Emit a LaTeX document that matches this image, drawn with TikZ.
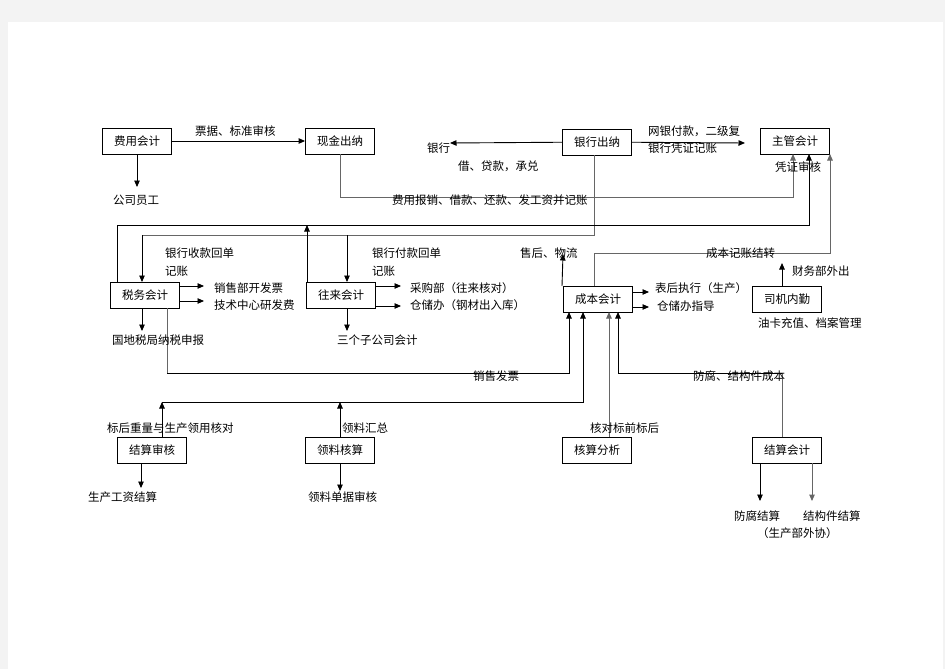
\documentclass[tikz,border=0pt]{standalone}
\usepackage{fontspec}
\setmainfont{Noto Sans CJK SC}
\usetikzlibrary{arrows.meta}
\definecolor{bggray}{HTML}{F3F3F3}
\tikzset{
  box/.style={draw=black, line width=0.9pt, fill=white, minimum width=69pt, minimum height=26pt, inner sep=0pt, font=\fontsize{11.5}{12}\selectfont},
  lbl/.style={inner sep=0pt, font=\fontsize{11.5}{12}\selectfont, anchor=west},
  ln/.style={line width=0.9pt, draw=black},
  gln/.style={line width=1pt, draw=black!60},
  arr/.style={-{Triangle[length=6.5pt,width=5.5pt]}},
}
\begin{document}
\begin{tikzpicture}[x=1pt,y=-1pt]
\useasboundingbox (0,0) rectangle (945,669);
\fill[bggray] (0,0) rectangle (945,669);
\fill[white] (8,22) rectangle (943,669);

% boxes
\node[box] (fy) at (137,141) {费用会计};
\node[box] (xj) at (340,141) {现金出纳};
\node[box] (yh) at (597,142) {银行出纳};
\node[box] (zg) at (795,141) {主管会计};
\node[box] (sw) at (145,295) {税务会计};
\node[box] (wl) at (341,295) {往来会计};
\node[box] (cb) at (598,299) {成本会计};
\node[box] (sj) at (787,299) {司机内勤};
\node[box] (js) at (152,450) {结算审核};
\node[box] (ll) at (340,450) {领料核算};
\node[box] (hs) at (597,450) {核算分析};
\node[box] (jk) at (787,450) {结算会计};

% free-end coordinates
\coordinate (gsyg) at (137,187);
\coordinate (bank) at (450,143);
\coordinate (zgin) at (745,143);
\coordinate (gds) at (142,331);
\coordinate (szgs) at (347,331);
\coordinate (swr1) at (204,286);
\coordinate (swr2) at (204,301);
\coordinate (wlr1) at (401,286);
\coordinate (wlr2) at (401,306);
\coordinate (cbr1) at (649,292);
\coordinate (cbr2) at (649,307);
\coordinate (shwl) at (563,254);
\coordinate (cwwc) at (782,263);
\coordinate (scgz) at (141,488);
\coordinate (lldj) at (340,491);
\coordinate (ffjs) at (760,501);
\coordinate (jgjs) at (812,501);

% 费用会计
\draw[ln,arr] (fy) -- (xj);
\draw[ln,arr] (fy.south) -- (gsyg);
% 现金出纳 -> 主管会计
\draw[gln,arr] (xj.south) |- (793,197) -- (793,154);
% 银行出纳
\draw[ln,arr] (yh) -- (bank);
\draw[ln,arr] (yh) -- (zgin);
\draw[gln] (594,155) -- (594,235) -- (142,235);
\draw[ln,arr] (142,235) -- (142,282);
\draw[ln,arr] (347,235) -- (347,282);
% 税务会计 loop to 主管会计
\draw[ln,arr] (117,282) -- (117,225) -- (809,225) -- (809,154);
\draw[ln,arr] (307,282) -- (307,225);
% 税务会计 outputs
\draw[ln,arr] (180,286) -- (swr1);
\draw[ln,arr] (180,301) -- (swr2);
\draw[ln,arr] (sw.south -| gds) -- (gds);
% 往来会计 outputs
\draw[ln,arr] (376,286) -- (wlr1);
\draw[ln,arr] (376,306) -- (wlr2);
\draw[ln,arr] (wl.south -| szgs) -- (szgs);
% 销售发票
\draw[gln] (167,308) -- (167,373);
\draw[ln,arr] (167,373) -- (569,373) -- (569,312);
% 成本会计
\draw[ln,arr] (562,286) -- (shwl);
\draw[gln,arr] (594,286) -- (594,253) -- (830,253) -- (830,154);
\draw[ln,arr] (633,292) -- (cbr1);
\draw[ln,arr] (633,307) -- (cbr2);
% 司机内勤
\draw[ln,arr] (sj.north -| cwwc) -- (cwwc);
% 结算审核 / 领料核算 -> 成本会计
\draw[ln,arr] (162,437) -- (162,402);
\draw[ln,arr] (340,437) -- (340,402);
\draw[ln,arr] (162,402) -- (583,402) -- (583,312);
\draw[ln,arr] (js.south -| scgz) -- (scgz);
\draw[ln,arr] (ll.south) -- (lldj);
% 核算分析
\draw[gln,arr] (609,437) -- (609,312);
% 结算会计
\draw[gln] (782,437) -- (782,373);
\draw[ln,arr] (782,373) -- (618,373) -- (618,312);
\draw[ln,arr] (760,463) -- (ffjs);
\draw[gln,arr] (812,463) -- (jgjs);

% labels
\node[lbl] (l1) at (195,131) {票据、标准审核};
\node[lbl] (l2) at (113,200) {公司员工};
\node[lbl] (l3) at (427,148) {银行};
\node[lbl] (l4) at (458,166) {借、贷款，承兑};
\node[lbl] (l5) at (648,131) {网银付款，二级复};
\node[lbl] (l6) at (648,148) {银行凭证记账};
\node[lbl] (l7) at (775,167) {凭证审核};
\node[lbl] (l8) at (392,200) {费用报销、借款、还款、发工资并记账};
\node[lbl] (l9) at (165,253) {银行收款回单};
\node[lbl] (l10) at (165,271) {记账};
\node[lbl] (l11) at (372,253) {银行付款回单};
\node[lbl] (l12) at (372,271) {记账};
\node[lbl] (l13) at (520,253) {售后、物流};
\node[lbl] (l14) at (706,253) {成本记账结转};
\node[lbl] (l15) at (792,271) {财务部外出};
\node[lbl] (l16) at (214,288) {销售部开发票};
\node[lbl] (l17) at (214,305) {技术中心研发费};
\node[lbl] (l18) at (410,288) {采购部（往来核对）};
\node[lbl] (l19) at (410,305) {仓储办（钢材出入库）};
\node[lbl] (l20) at (655,288) {表后执行（生产）};
\node[lbl] (l21) at (657,306) {仓储办指导};
\node[lbl] (l22) at (758,323) {油卡充值、档案管理};
\node[lbl] (l23) at (112,340) {国地税局纳税申报};
\node[lbl] (l24) at (337,340) {三个子公司会计};
\node[lbl] (l25) at (473,376) {销售发票};
\node[lbl] (l26) at (693,376) {防腐、结构件成本};
\node[lbl] (l27) at (107,428) {标后重量与生产领用核对};
\node[lbl] (l28) at (342,428) {领料汇总};
\node[lbl] (l29) at (590,428) {核对标前标后};
\node[lbl] (l30) at (88,497) {生产工资结算};
\node[lbl] (l31) at (308,497) {领料单据审核};
\node[lbl] (l32) at (734,516) {防腐结算};
\node[lbl] (l33) at (803,516) {结构件结算};
\node[lbl] (l34) at (757,533) {（生产部外协）};
\end{tikzpicture}
\end{document}
